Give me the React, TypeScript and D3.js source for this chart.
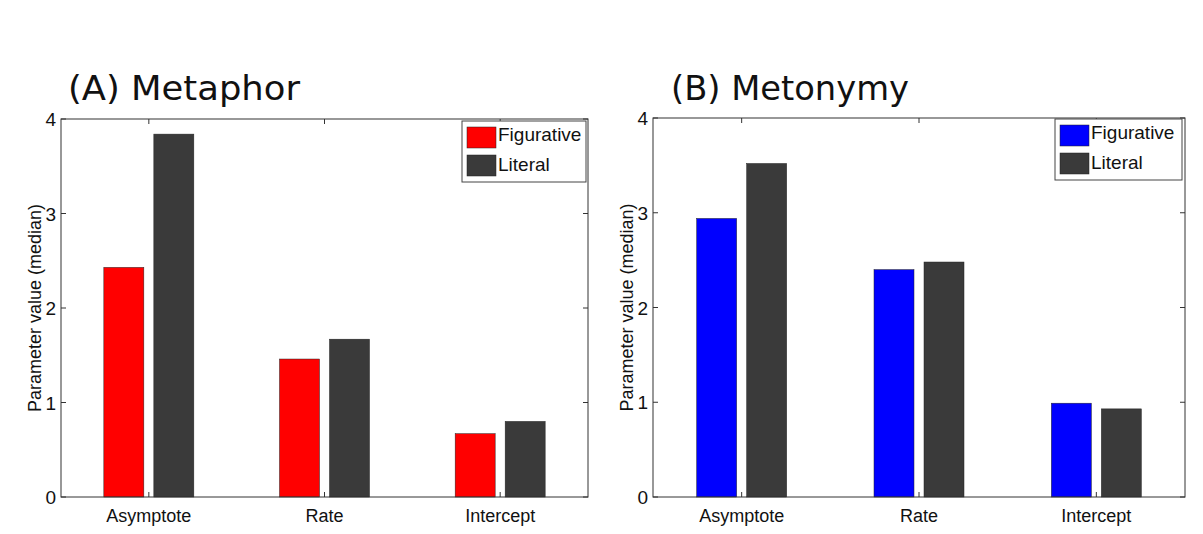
import React from "react";
import * as d3 from "d3";

const categories = ["Asymptote", "Rate", "Intercept"];
const seriesNames = ["Figurative", "Literal"];
const metaphorFigurative = [2.43, 1.46, 0.67];
const metaphorLiteral = [3.84, 1.67, 0.8];
const metonymyFigurative = [2.94, 2.4, 0.99];
const metonymyLiteral = [3.52, 2.48, 0.93];
const yTicks = [0, 1, 2, 3, 4];

const W = 1203;
const H = 534;

type PanelProps = {
  title: string;
  titleLen: number;
  left: number;
  right: number;
  top: number;
  bottom: number;
  fig: number[];
  lit: number[];
  figColor: string;
  legendX: number;
  legendY: number;
  legendW: number;
  titleX: number;
  labelX: number;
};

const Panel = (p: PanelProps) => {
  const x = d3.scaleLinear().domain([0.5, 3.5]).range([p.left, p.right]);
  const y = d3.scaleLinear().domain([0, 4]).range([p.bottom, p.top]);
  const barW = 40;
  const off = 25;
  const axisColor = "#333";
  const litColor = "#3a3a3a";
  const tickLen = 5;
  const font = "Liberation Sans, Arial, sans-serif";
  return (
    <g>
      <text
        x={p.titleX}
        y={100}
        fontFamily="DejaVu Sans, Verdana, sans-serif"
        fontSize={34}
        fill="#111"
        textLength={p.titleLen}
        lengthAdjust="spacingAndGlyphs"
      >
        {p.title}
      </text>
      <rect x={p.left} y={p.top} width={p.right - p.left} height={p.bottom - p.top} fill="white" />
      {categories.map((c, i) => {
        const cx = x(i + 1);
        return (
          <g key={c}>
            <rect x={cx - off - barW / 2} y={y(p.fig[i])} width={barW} height={y(0) - y(p.fig[i])} fill={p.figColor} stroke="#222" strokeWidth={0.5} />
            <rect x={cx + off - barW / 2} y={y(p.lit[i])} width={barW} height={y(0) - y(p.lit[i])} fill={litColor} stroke="#222" strokeWidth={0.5} />
            <line x1={cx} x2={cx} y1={p.bottom} y2={p.bottom - tickLen} stroke={axisColor} />
            <line x1={cx} x2={cx} y1={p.top} y2={p.top + tickLen} stroke={axisColor} />
            <text x={cx} y={p.bottom + 25} textAnchor="middle" fontFamily={font} fontSize={18} fill="#111">
              {c}
            </text>
          </g>
        );
      })}
      {yTicks.map((t) => (
        <g key={t}>
          <line x1={p.left} x2={p.left + tickLen} y1={y(t)} y2={y(t)} stroke={axisColor} />
          <line x1={p.right} x2={p.right - tickLen} y1={y(t)} y2={y(t)} stroke={axisColor} />
          <text x={p.left - 5} y={y(t) + 7} textAnchor="end" fontFamily={font} fontSize={19} fill="#111">
            {t}
          </text>
        </g>
      ))}
      <rect x={p.left} y={p.top} width={p.right - p.left} height={p.bottom - p.top} fill="none" stroke={axisColor} strokeWidth={1} />
      <text
        transform={`translate(${p.labelX},${(p.top + p.bottom) / 2}) rotate(-90)`}
        textAnchor="middle"
        fontFamily={font}
        fontSize={18}
        fill="#111"
      >
        Parameter value (median)
      </text>
      <g transform={`translate(${p.legendX},${p.legendY})`}>
        <rect x={0} y={0} width={p.legendW} height={61} fill="white" stroke="#444" strokeWidth={1} />
        {seriesNames.map((s, i) => (
          <g key={s}>
            <rect x={5} y={6 + i * 28} width={29} height={21} fill={i === 0 ? p.figColor : litColor} stroke="#222" strokeWidth={0.5} />
            <text x={36} y={20 + i * 30} fontFamily={font} fontSize={19} fill="#111">
              {s}
            </text>
          </g>
        ))}
      </g>
    </g>
  );
};

export default function App() {
  return (
    <svg width={W} height={H} style={{ display: "block", position: "absolute", left: 0, top: 0, background: "white" }}>
      <rect x={0} y={0} width={W} height={H} fill="white" />
      <Panel
        title="(A) Metaphor"
        titleLen={232}
        left={61}
        right={588}
        top={119}
        bottom={497}
        fig={metaphorFigurative}
        lit={metaphorLiteral}
        figColor="#ff0000"
        legendX={462}
        legendY={121}
        legendW={124}
        titleX={68}
        labelX={41}
      />
      <Panel
        title="(B) Metonymy"
        titleLen={238}
        left={653}
        right={1185}
        top={118}
        bottom={497}
        fig={metonymyFigurative}
        lit={metonymyLiteral}
        figColor="#0000ff"
        legendX={1055}
        legendY={119}
        legendW={127}
        titleX={671}
        labelX={633}
      />
    </svg>
  );
}
